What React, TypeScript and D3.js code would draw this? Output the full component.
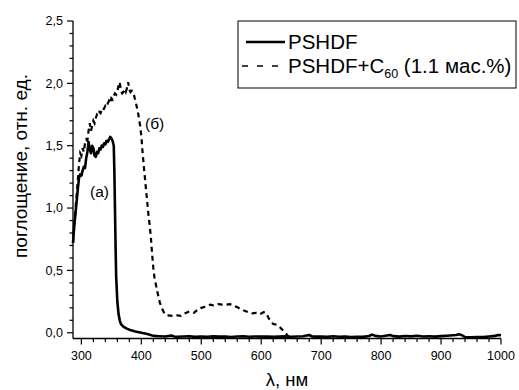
import React, { useEffect, useRef } from "react";
import * as d3 from "d3";

const W = 519;
const H = 390;

// PSHDF (solid, curve а)
const solidNm = [286, 288, 290, 292, 294, 296, 298, 300, 302, 304, 306, 308, 310, 312, 314, 316, 318, 320, 322, 324, 326, 328, 330, 332, 334, 336, 338, 340, 342, 344, 346, 348, 350, 352, 354, 355, 356, 357, 358, 360, 362, 364, 366, 370, 375, 380, 390, 400, 410, 420, 430, 440, 450, 455, 460, 470, 480, 490, 500, 510, 520, 530, 540, 550, 560, 570, 580, 590, 600, 610, 620, 630, 640, 650, 660, 670, 680, 685, 690, 700, 710, 720, 730, 740, 750, 760, 770, 780, 785, 790, 800, 810, 815, 820, 830, 840, 850, 860, 870, 880, 890, 900, 910, 920, 925, 930, 935, 940, 950, 960, 970, 980, 990, 995, 1000];
const solidVal = [0.72, 0.85, 0.95, 1.05, 1.15, 1.24, 1.27, 1.26, 1.3, 1.33, 1.32, 1.4, 1.45, 1.53, 1.47, 1.44, 1.5, 1.48, 1.42, 1.41, 1.45, 1.44, 1.48, 1.47, 1.5, 1.49, 1.52, 1.51, 1.54, 1.53, 1.55, 1.57, 1.56, 1.54, 1.5, 1.3, 1.0, 0.7, 0.45, 0.25, 0.15, 0.1, 0.07, 0.05, 0.035, 0.025, 0.01, 0.0, -0.01, -0.025, -0.028, -0.03, -0.022, -0.03, -0.032, -0.03, -0.028, -0.033, -0.03, -0.032, -0.029, -0.031, -0.03, -0.034, -0.03, -0.028, -0.032, -0.03, -0.031, -0.03, -0.033, -0.031, -0.029, -0.032, -0.03, -0.028, -0.018, -0.03, -0.031, -0.03, -0.033, -0.028, -0.032, -0.031, -0.034, -0.032, -0.033, -0.026, -0.015, -0.025, -0.03, -0.022, -0.018, -0.027, -0.031, -0.026, -0.029, -0.024, -0.03, -0.028, -0.031, -0.027, -0.024, -0.02, -0.018, -0.012, -0.02, -0.035, -0.036, -0.034, -0.035, -0.03, -0.025, -0.018, -0.02];

// PSHDF+C60 (dashed, curve б)
const dashNm = [286, 288, 290, 292, 294, 296, 298, 300, 302, 304, 306, 308, 310, 312, 314, 316, 318, 320, 322, 324, 326, 328, 330, 332, 334, 336, 338, 340, 342, 344, 346, 348, 350, 352, 354, 356, 358, 360, 362, 364, 366, 368, 370, 372, 374, 376, 378, 380, 382, 384, 386, 388, 390, 392, 395, 398, 400, 402, 404, 406, 408, 410, 412, 414, 416, 418, 420, 422, 425, 428, 431, 435, 439, 445, 452, 460, 466, 472, 480, 488, 495, 500, 508, 515, 520, 528, 535, 542, 548, 555, 562, 570, 578, 585, 592, 598, 604, 608, 612, 616, 620, 626, 632, 638, 642, 645];
const dashVal = [0.72, 0.85, 0.98, 1.1, 1.22, 1.35, 1.44, 1.42, 1.48, 1.45, 1.52, 1.55, 1.54, 1.62, 1.68, 1.62, 1.66, 1.7, 1.68, 1.72, 1.75, 1.74, 1.77, 1.76, 1.79, 1.78, 1.8, 1.82, 1.81, 1.84, 1.86, 1.84, 1.88, 1.87, 1.9, 1.92, 1.91, 1.94, 1.98, 2.01, 1.94, 1.92, 1.93, 1.95, 1.93, 1.96, 2.01, 1.95, 1.93, 1.94, 1.92, 1.9, 1.86, 1.82, 1.75, 1.66, 1.58, 1.45, 1.34, 1.24, 1.14, 1.04, 0.94, 0.86, 0.76, 0.63, 0.52, 0.44, 0.37, 0.3, 0.24, 0.19, 0.15, 0.14, 0.135, 0.14, 0.135, 0.155, 0.17, 0.16, 0.19, 0.2, 0.21, 0.225, 0.22, 0.23, 0.225, 0.225, 0.23, 0.215, 0.2, 0.18, 0.165, 0.155, 0.16, 0.15, 0.165, 0.16, 0.12, 0.09, 0.07, 0.065, 0.04, 0.01, -0.01, -0.03];

const xMajor = [300, 400, 500, 600, 700, 800, 900, 1000];
const yMajor = [0, 0.5, 1.0, 1.5, 2.0, 2.5];
const yLabels = ["0,0", "0,5", "1,0", "1,5", "2,0", "2,5"];

const legendLabels = ["PSHDF", "PSHDF+C"];

const FONT = "'Liberation Sans', Arial, sans-serif";

export default function App() {
  const ref = useRef<SVGSVGElement | null>(null);

  useEffect(() => {
    const svg = d3.select(ref.current);
    svg.selectAll("*").remove();

    const left = 73, right = 501, top = 21, bottom = 338.5;
    const x = d3.scaleLinear().domain([286, 1000]).range([left, right]);
    const y = d3.scaleLinear().domain([-0.046, 2.5]).range([bottom, top]);

    const g = svg.append("g");

    // axes lines
    g.append("line").attr("x1", left).attr("x2", left).attr("y1", top).attr("y2", bottom)
      .attr("stroke", "#000").attr("stroke-width", 1.3);
    g.append("line").attr("x1", left).attr("x2", right).attr("y1", bottom).attr("y2", bottom)
      .attr("stroke", "#000").attr("stroke-width", 1.3);

    // y ticks
    const yMinor = d3.range(0, 26).map((i) => i / 10);
    yMinor.forEach((v) => {
      const major = Math.abs(v * 2 - Math.round(v * 2)) < 1e-6;
      g.append("line").attr("x1", left).attr("x2", left - (major ? 6 : 3.5))
        .attr("y1", y(v)).attr("y2", y(v)).attr("stroke", "#000").attr("stroke-width", 1.2);
    });
    yMajor.forEach((v, i) => {
      g.append("text").attr("x", left - 10).attr("y", y(v)).attr("dy", "0.35em")
        .attr("text-anchor", "end").attr("font-family", FONT).attr("font-size", 12.5)
        .text(yLabels[i]);
    });

    // x ticks
    const xMinor = d3.range(300, 1001, 20);
    xMinor.forEach((v) => {
      const major = v % 100 === 0;
      g.append("line").attr("x1", x(v)).attr("x2", x(v)).attr("y1", bottom)
        .attr("y2", bottom + (major ? 6 : 3.5)).attr("stroke", "#000").attr("stroke-width", 1.2);
    });
    xMajor.forEach((v) => {
      g.append("text").attr("x", x(v)).attr("y", bottom + 21.5).attr("text-anchor", "middle")
        .attr("font-family", FONT).attr("font-size", 12.5).text(String(v));
    });

    // axis titles
    g.append("text").attr("x", (left + right) / 2).attr("y", 385.5).attr("text-anchor", "middle")
      .attr("font-family", FONT).attr("font-size", 18.5).text("λ, нм");
    g.append("text").attr("transform", `translate(27,166) rotate(-90)`)
      .attr("text-anchor", "middle").attr("font-family", FONT).attr("font-size", 19)
      .text("поглощение, отн. ед.");

    const line = d3.line<[number, number]>().x((d) => x(d[0])).y((d) => y(d[1]));

    const solid: [number, number][] = solidNm.map((n, i) => [n, solidVal[i]]);
    const dashed: [number, number][] = dashNm.map((n, i) => [n, dashVal[i]]);

    g.append("path").attr("d", line(dashed) as string).attr("fill", "none")
      .attr("stroke", "#000").attr("stroke-width", 2.2).attr("stroke-dasharray", "5,4");
    g.append("path").attr("d", line(solid) as string).attr("fill", "none")
      .attr("stroke", "#000").attr("stroke-width", 2.6).attr("stroke-linejoin", "round");

    // annotations
    g.append("text").attr("x", 90).attr("y", 197).attr("font-family", FONT).attr("font-size", 15.5).text("(а)");
    g.append("text").attr("x", 145).attr("y", 129).attr("font-family", FONT).attr("font-size", 15.5).text("(б)");

    // legend
    const lg = g.append("g");
    lg.append("rect").attr("x", 238).attr("y", 21).attr("width", 278).attr("height", 67)
      .attr("fill", "#fff").attr("stroke", "#000").attr("stroke-width", 1);
    lg.append("line").attr("x1", 246).attr("x2", 285).attr("y1", 42).attr("y2", 42)
      .attr("stroke", "#000").attr("stroke-width", 2.5);
    lg.append("line").attr("x1", 242).attr("x2", 284).attr("y1", 66).attr("y2", 66)
      .attr("stroke", "#000").attr("stroke-width", 1.5).attr("stroke-dasharray", "6,9");
    lg.append("text").attr("x", 288).attr("y", 49).attr("font-family", FONT).attr("font-size", 20.5)
      .text(legendLabels[0]);
    const t2 = lg.append("text").attr("x", 288).attr("y", 73).attr("font-family", FONT).attr("font-size", 20.5);
    t2.append("tspan").text(legendLabels[1]);
    t2.append("tspan").attr("dy", 5).attr("font-size", 12.5).text("60");
    t2.append("tspan").attr("dy", -5).text(" (1.1 мас.%)");
  }, []);

  return (
    <svg ref={ref} width={W} height={H} style={{ position: "absolute", left: 0, top: 0, background: "#fff" }} />
  );
}
